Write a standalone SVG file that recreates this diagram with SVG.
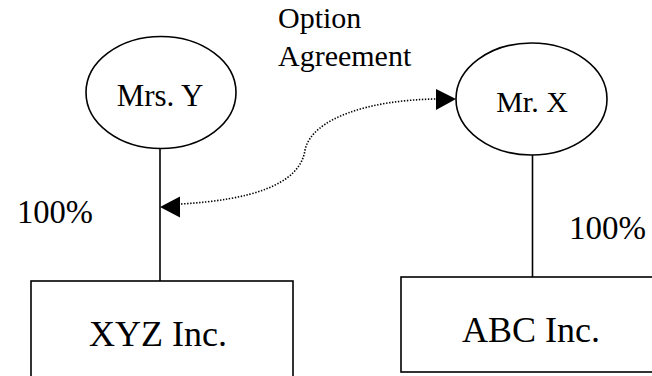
<svg xmlns="http://www.w3.org/2000/svg" width="652" height="376" viewBox="0 0 652 376">
  <style>
    .shape { fill: #ffffff; stroke: #000000; stroke-width: 1.6; }
    .link { fill: none; stroke: #000000; stroke-width: 1.6; }
    .dotted { fill: none; stroke: #000000; stroke-width: 1.6; stroke-dasharray: 1.4 1.6; }
    text { font-family: "Liberation Serif", "Times New Roman", serif; fill: #000000; }
    .lbl { font-size: 31px; text-anchor: middle; }
    .co { font-size: 36px; text-anchor: middle; }
    .pct { font-size: 33px; }
    .note { font-size: 30px; }
  </style>
  <defs>
    <marker id="tri" viewBox="0 0 20 21" refX="20" refY="10.5" markerWidth="20" markerHeight="21" markerUnits="userSpaceOnUse" orient="auto">
      <path d="M0,0 L20,10.5 L0,21 Z" fill="#000000"/>
    </marker>
  </defs>

  <!-- ownership and option links -->
  <g id="connectors">
    <line class="link" x1="160" y1="148" x2="160" y2="281"/>
    <line class="link" x1="532.5" y1="155" x2="532.5" y2="277"/>
    <path class="dotted" d="M181,204 C250,200 300,185 305,150 C312,118 370,100 436,99"/>
    <!-- arrowheads at both ends of the option link -->
    <path d="M160,207 L180,196.5 L180,217.5 Z" fill="#000000"/>
    <path d="M456,99 L436,89 L436,110 Z" fill="#000000"/>
  </g>

  <g id="mrs-y">
    <ellipse class="shape" cx="161" cy="92.5" rx="75" ry="56"/>
    <text class="lbl" x="160" y="106">Mrs. Y</text>
  </g>

  <g id="mr-x">
    <ellipse class="shape" cx="531.5" cy="99" rx="75.5" ry="56"/>
    <text class="lbl" x="532" y="111.5" style="font-size:30px">Mr. X</text>
  </g>

  <g id="xyz-inc">
    <rect class="shape" x="31" y="281" width="262" height="110"/>
    <text class="co" x="158" y="345.5">XYZ Inc.</text>
  </g>

  <g id="abc-inc">
    <rect class="shape" x="401" y="277" width="270" height="95"/>
    <text class="co" x="531" y="341.5">ABC Inc.</text>
  </g>

  <g id="labels">
    <text class="note" x="278" y="27.5">Option</text>
    <text class="note" x="278" y="65.5">Agreement</text>
    <text class="pct" x="17" y="223" textLength="76" lengthAdjust="spacingAndGlyphs">100%</text>
    <text class="pct" x="569" y="239" textLength="77" lengthAdjust="spacingAndGlyphs">100%</text>
  </g>
</svg>
